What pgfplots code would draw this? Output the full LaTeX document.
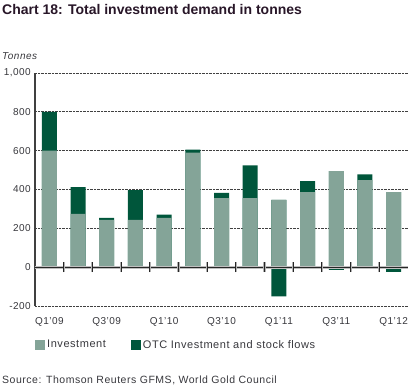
\documentclass[border=0pt]{standalone}
\usepackage{pgfplots}
\pgfplotsset{compat=1.18}
\usepackage{pgfplotstable}
\usepackage{fontspec}
\setmainfont{Liberation Sans}[LetterSpace=5]
\newfontfamily\titlefont{Liberation Sans}
\definecolor{inv}{RGB}{132,164,152}
\definecolor{otc}{RGB}{0,86,59}
\definecolor{txt}{RGB}{55,55,60}
\definecolor{ttl}{RGB}{40,22,40}

\pgfplotstableread{
x inv otc
0 600 200
1 275 137
2 244 10
3 244 153
4 254 16
5 590 15
6 356 26
7 356 168
8 346 -151
9 387 56
10 494 -14
11 448 30
12 387 -24
}\data

\begin{document}
\begin{tikzpicture}
\path[use as bounding box] (0pt,0pt) rectangle (412pt,-390pt);
\node[anchor=base west, font=\titlefont\bfseries\fontsize{14}{16}\selectfont, text=ttl, inner sep=0pt] at (2pt,-15pt) {Chart 18: Total investment demand in tonnes};
\node[anchor=base west, font=\itshape\fontsize{10}{12}\selectfont, text=txt, inner sep=0pt] at (2pt,-59.5pt) {Tonnes};
\node[anchor=base west, font=\fontsize{10.5}{13}\selectfont, text=txt, inner sep=0pt] at (2pt,-383.5pt) {Source: Thomson Reuters GFMS, World Gold Council};
\begin{axis}[
  at={(35pt,-306pt)}, anchor=south west, scale only axis,
  width=373pt, height=233pt,
  xmin=-0.5, xmax=12.5, ymin=-200, ymax=1000,
  axis y line*=left, axis x line*=bottom,
  x axis line style={draw=none},
  y axis line style={black!75, line width=1.1pt},
  ytick={-200,0,200,400,600,800,1000},
  yticklabels={-200,0,200,400,600,800,{1,000}},
  ymajorgrids, major grid style={black!75, densely dotted, line width=0.8pt},
  major tick length=0pt,
  xtick={0,...,12},
  xticklabels={Q1'09,,Q3'09,,Q1'10,,Q3'10,,Q1'11,,Q3'11,,Q1'12},
  tick label style={font=\fontsize{10}{12}\selectfont, text=txt},
  yticklabel style={inner sep=0pt, xshift=-4pt},
  xticklabel style={yshift=-8pt},
  ybar, bar width=15pt,
  legend style={at={(0,-0.167)}, anchor=west, draw=none, fill=none,
    legend columns=2, font=\fontsize{11}{12}\selectfont, text=txt,
    inner xsep=0pt, /tikz/every even column/.append style={column sep=23pt}},
  legend image code/.code={\path[#1] (0pt,-5pt) rectangle (10pt,5pt);},
]
\addplot[forget plot, fill=otc, draw=none, bar shift=0pt] table[x=x, y expr={\thisrow{inv}+max(\thisrow{otc},0)}] {\data};
\addplot[forget plot, fill=inv, draw=none, bar shift=0pt] table[x=x, y=inv] {\data};
\addplot[forget plot, fill=otc, draw=none, bar shift=0pt] table[x=x, y expr={min(\thisrow{otc},0)}] {\data};
\addlegendimage{fill=inv, draw=none}
\addlegendentry{Investment}
\addlegendimage{fill=otc, draw=none}
\addlegendentry{OTC Investment and stock flows}
\draw[black!25, line width=3pt] (axis cs:-0.5,0) -- (axis cs:12.5,0);
\draw[black!85, line width=1pt] (axis cs:-0.5,0) -- (axis cs:12.5,0);
\pgfplotsinvokeforeach{0.5,1.5,2.5,3.5,4.5,5.5,6.5,7.5,8.5,9.5,10.5,11.5}{
  \draw[black!30, line width=2.2pt] (axis cs:#1,0) ++(0pt,-5pt) -- ++(0pt,10pt);
  \draw[black!85, line width=0.9pt] (axis cs:#1,0) ++(0pt,-5pt) -- ++(0pt,10pt);
}
\end{axis}
\end{tikzpicture}
\end{document}
